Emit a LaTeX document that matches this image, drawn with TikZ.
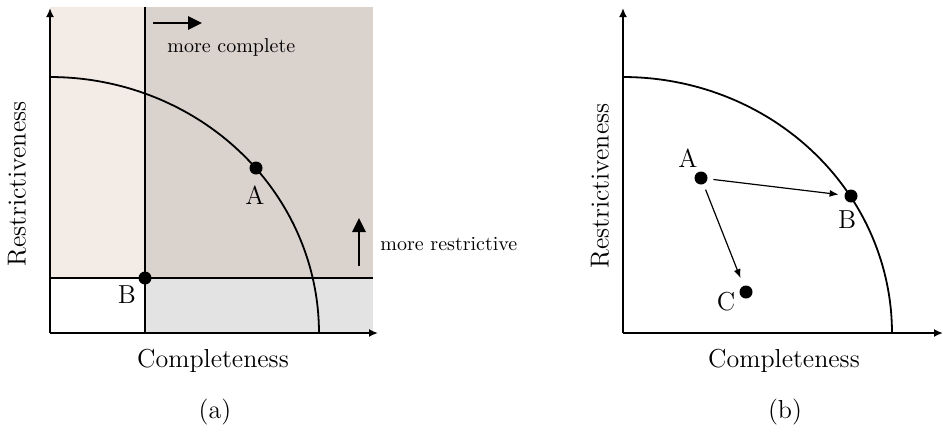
\documentclass[tikz,border=0pt]{standalone}
\usepackage{fontspec}
\usetikzlibrary{arrows.meta}
\definecolor{pinkish}{HTML}{F3EBE6}
\definecolor{taupe}{HTML}{DAD2CD}
\definecolor{lgray}{HTML}{E3E3E3}
\begin{document}
\begin{tikzpicture}[x=0.5pt,y=-0.5pt,
  axis/.style={line width=1pt,-{Latex[length=4.5pt,width=4pt]}},
  dot/.style={circle,fill=black,inner sep=0pt,minimum size=6.5pt},
  lab/.style={font=\fontsize{13}{15}\selectfont,inner sep=0pt},
  note/.style={font=\fontsize{10}{12}\selectfont,inner sep=0pt},
  bigarrow/.style={line width=1.4pt,-{Triangle[length=7pt,width=6.5pt]}},
  thinarrow/.style={line width=0.6pt,-{Latex[length=4.5pt,width=3.5pt]}},
  bound/.style={line width=0.9pt},
  front/.style={line width=0.9pt}]
\useasboundingbox (0,0) rectangle (943,434);

% ---------- panel (a) ----------
\fill[pinkish] (50,7) rectangle (145,278);
\fill[taupe] (145,7) rectangle (373,278);
\fill[lgray] (145,278) rectangle (373,333);
\coordinate (vtop) at (145,7);
\coordinate (vbot) at (145,333);
\coordinate (hl) at (50,278);
\coordinate (hr) at (373,278);
\draw[bound] (vtop) -- (vbot);
\draw[bound] (hl) -- (hr);
\draw[front] plot[domain=0:90,samples=80] ({50+269*cos(\x)},{333-256*sin(\x)});
\coordinate (oa) at (50,333);
\coordinate (ya) at (50,8);
\coordinate (xa) at (378,333);
\draw[axis] (oa) -- (ya);
\draw[axis] (oa) -- (xa);

\node[dot] (aA) at (256,168) {};
\node[dot] (aB) at (145,278) {};
\node[lab] (aAl) at (255,195) {A};
\node[lab] (aBl) at (127,295) {B};

\coordinate (mc1) at (153,23);
\coordinate (mc2) at (202,23);
\draw[bigarrow] (mc1) -- (mc2);
\node[note,anchor=base west] (mct) at (167,52) {more complete};
\coordinate (mr1) at (359,266);
\coordinate (mr2) at (359,218);
\draw[bigarrow] (mr1) -- (mr2);
\node[note,anchor=base west] (mrt) at (380,250) {more restrictive};

\node[lab,rotate=90] (aylab) at (17,184) {Restrictiveness};
\node[lab,anchor=base] (axlab) at (213,367) {Completeness};
\node[lab,anchor=base] (acap) at (215,418) {(a)};

% ---------- panel (b) ----------
\draw[front] plot[domain=0:90,samples=80] ({623+269*cos(\x)},{333-256*sin(\x)});
\coordinate (ob) at (623,333);
\coordinate (yb) at (623,8);
\coordinate (xb) at (943,333);
\draw[axis] (ob) -- (yb);
\draw[axis] (ob) -- (xb);

\node[dot] (bA) at (701,178) {};
\node[dot] (bB) at (851,196) {};
\node[dot] (bC) at (746,292) {};
\node[lab] (bAl) at (688,158) {A};
\node[lab] (bBl) at (847,220) {B};
\node[lab] (bCl) at (726,302) {C};
\draw[thinarrow,shorten <=2.8pt,shorten >=2.8pt] (bA) -- (bB);
\draw[thinarrow,shorten <=2.8pt,shorten >=4pt] (bA) -- (bC);

\node[lab,rotate=90] (bylab) at (600,186) {Restrictiveness};
\node[lab,anchor=base] (bxlab) at (784,367) {Completeness};
\node[lab,anchor=base] (bcap) at (785,418) {(b)};
\end{tikzpicture}
\end{document}
